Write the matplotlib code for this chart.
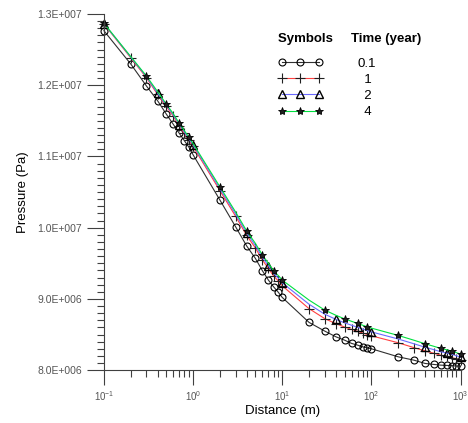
import numpy as np
import matplotlib
matplotlib.use("Agg")
import matplotlib.pyplot as plt
from matplotlib.ticker import FuncFormatter, LogLocator, MultipleLocator

plt.rcParams['font.family'] = ['Liberation Sans', 'DejaVu Sans']
plt.rcParams['mathtext.fontset'] = 'custom'
plt.rcParams['mathtext.rm'] = 'Liberation Sans'
plt.rcParams['mathtext.it'] = 'Liberation Sans'

# distance (m)
distance = [0.1, 0.2, 0.3, 0.4, 0.5, 0.6, 0.7, 0.8, 0.9,
            1, 2, 3, 4, 5, 6, 7, 8, 9,
            10, 20, 30, 40, 50, 60, 70, 80, 90,
            100, 200, 300, 400, 500, 600, 700, 800, 900, 1000]

# pressure (Pa) for each time
p_01 = [12.765e6, 12.298e6, 11.989e6, 11.782e6, 11.596e6, 11.451e6, 11.325e6, 11.220e6, 11.128e6,
        11.024e6, 10.388e6, 10.013e6, 9.742e6, 9.569e6, 9.395e6, 9.264e6, 9.170e6, 9.096e6,
        9.021e6, 8.670e6, 8.548e6, 8.468e6, 8.421e6, 8.375e6, 8.351e6, 8.327e6, 8.313e6,
        8.300e6, 8.187e6, 8.140e6, 8.094e6, 8.080e6, 8.070e6, 8.066e6, 8.062e6, 8.058e6, 8.055e6]
p_1 = [12.860e6, 12.385e6, 12.105e6, 11.870e6, 11.705e6, 11.565e6, 11.428e6, 11.322e6, 11.228e6,
       11.140e6, 10.520e6, 10.160e6, 9.890e6, 9.715e6, 9.545e6, 9.428e6, 9.322e6, 9.255e6,
       9.184e6, 8.863e6, 8.723e6, 8.652e6, 8.605e6, 8.572e6, 8.545e6, 8.521e6, 8.500e6,
       8.482e6, 8.384e6, 8.316e6, 8.270e6, 8.238e6, 8.210e6, 8.192e6, 8.176e6, 8.158e6, 8.140e6]
p_2 = [12.866e6, 12.395e6, 12.118e6, 11.886e6, 11.722e6, 11.583e6, 11.447e6, 11.342e6, 11.249e6,
       11.161e6, 10.548e6, 10.192e6, 9.923e6, 9.750e6, 9.582e6, 9.466e6, 9.360e6, 9.294e6,
       9.226e6, 8.925e6, 8.785e6, 8.713e6, 8.664e6, 8.630e6, 8.602e6, 8.577e6, 8.555e6,
       8.537e6, 8.437e6, 8.370e6, 8.322e6, 8.288e6, 8.258e6, 8.240e6, 8.222e6, 8.202e6, 8.183e6]
p_4 = [12.870e6, 12.402e6, 12.129e6, 11.910e6, 11.736e6, 11.600e6, 11.465e6, 11.360e6, 11.268e6,
       11.180e6, 10.574e6, 10.220e6, 9.952e6, 9.780e6, 9.615e6, 9.500e6, 9.395e6, 9.330e6,
       9.264e6, 8.983e6, 8.843e6, 8.770e6, 8.720e6, 8.685e6, 8.656e6, 8.630e6, 8.608e6,
       8.590e6, 8.487e6, 8.420e6, 8.370e6, 8.335e6, 8.305e6, 8.285e6, 8.267e6, 8.245e6, 8.225e6]

labels = ['0.1', '  1', '  2', '  4']

fig = plt.figure(figsize=(4.68, 4.23), dpi=100)
ax = fig.add_axes([0.222, 0.125, 0.762, 0.842])

ax.plot(distance, p_01, color='#303030', lw=0.8, marker='o', ms=5, mfc='none',
        mec='black', mew=0.8, label=labels[0], clip_on=False)
ax.plot(distance, p_1, color='#ff4040', lw=0.8, marker='+', ms=6.5, mec='#202020',
        mew=0.8, label=labels[1], clip_on=False)
ax.plot(distance, p_2, color='#6a6aff', lw=0.8, marker='^', ms=5.5, mfc='none',
        mec='black', mew=1.0, markevery=3, label=labels[2], clip_on=False)
ax.plot(distance, p_4, color='#00e040', lw=0.8, marker='*', ms=6, mfc='#202020',
        mec='black', mew=0.6, markevery=2, label=labels[3], clip_on=False)

ax.set_xscale('log')
ax.set_xlim(0.1, 1000)
ax.set_ylim(8.0e6, 1.3e7)
ax.yaxis.set_major_locator(MultipleLocator(1e6))
ax.yaxis.set_minor_locator(MultipleLocator(1e5))


def sci(v, pos):
    e = int(np.floor(np.log10(v)))
    return f"{v / 10**e:.1f}E+{e:03d}"


ax.yaxis.set_major_formatter(FuncFormatter(sci))
ax.xaxis.set_major_locator(LogLocator(base=10, numticks=10))
ax.xaxis.set_minor_locator(LogLocator(base=10, subs=np.arange(2, 10), numticks=20))

for s in ['top', 'right']:
    ax.spines[s].set_visible(False)
for s in ['left', 'bottom']:
    ax.spines[s].set_color('#404040')
    ax.spines[s].set_linewidth(0.8)

ax.tick_params(which='major', direction='out', length=12, width=0.8, color='#404040',
               labelsize=7.5, labelcolor='#555555', pad=4)
ax.tick_params(which='minor', direction='out', length=5, width=0.8, color='#404040')
ax.tick_params(axis='x', which='major', length=11, pad=3, labelsize=7)

ax.set_xlabel('Distance (m)', fontsize=9.5, labelpad=1)
ax.set_ylabel('Pressure (Pa)', fontsize=9.5, labelpad=6)

leg = ax.legend(title='Symbols     Time (year)', frameon=False, numpoints=3,
                handlelength=3.4, handletextpad=2.6, fontsize=9.5, title_fontsize=9.5,
                loc='upper left', bbox_to_anchor=(0.455, 0.98), labelspacing=0.3)
leg.get_title().set_fontweight('bold')
leg._legend_box.align = 'left'
leg._legend_box.sep = 9

fig.savefig('out.png', dpi=100)
